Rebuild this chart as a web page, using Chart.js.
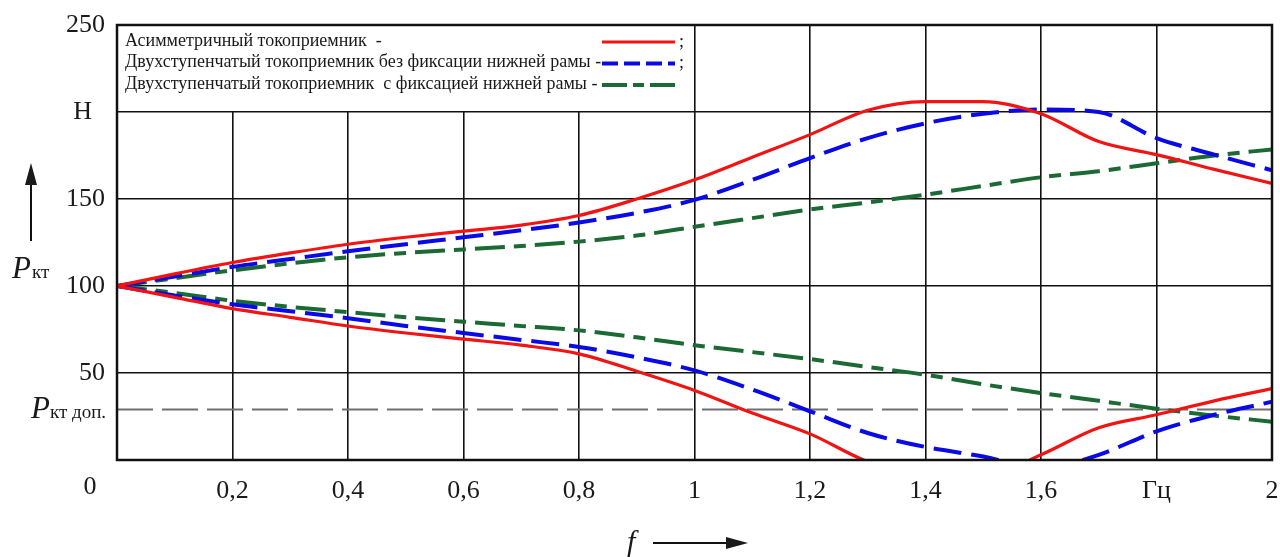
<!DOCTYPE html>
<html>
<head>
<meta charset="utf-8">
<script src="https://cdn.jsdelivr.net/npm/chart.js@4.4.1/dist/chart.umd.min.js"></script>
<style>
  html, body { margin: 0; padding: 0; background: #fff; }
</style>
</head>
<body>
<canvas id="chart" width="1280" height="557"></canvas>
<script>
// frequency, Hz
var freq = [0, 0.1, 0.2, 0.3, 0.4, 0.5, 0.6, 0.7, 0.8, 0.9, 1.0,
            1.1, 1.2, 1.3, 1.4, 1.5, 1.6, 1.7, 1.8, 1.9, 2.0];

// contact force, N (upper / lower envelope)
var asymUp      = [100, 107, 113.5, 119, 124, 128, 131.5, 135, 140.5, 150, 161,
                   174, 187, 201, 206, 206, 199, 183, 175.5, 167, 159];
var asymDown    = [100, 93.5, 87, 82, 77, 73, 69.5, 66, 61, 51, 40,
                   27, 15, -1, -10, -10, 3, 18.5, 26, 34, 41];
var twoFreeUp   = [100, 105.5, 111, 115.5, 120, 124, 128, 132, 136.5, 142, 149.5,
                   161, 173.5, 185, 193.5, 199, 201.5, 200, 185, 175.5, 166.5];
var twoFreeDown = [100, 94.5, 89.5, 85.5, 81.5, 77, 73, 69, 65, 59, 51.5,
                   40.5, 28, 15.5, 7.5, 2, -5, 3, 16.5, 26, 33.5];
var twoFixUp    = [100, 104.5, 109, 113, 116.5, 119, 121, 123, 125.5, 129, 134,
                   139, 144, 148, 152.5, 157.5, 162.5, 166, 170.5, 175, 178.5];
var twoFixDown  = [100, 96, 91.5, 88, 85, 82, 79.5, 77, 74.5, 70.5, 66,
                   62, 58, 53.5, 49, 43.5, 38.5, 34, 29.5, 25.5, 22];

var pAllowed = 29;

var xTickLabels = ['', '0,2', '0,4', '0,6', '0,8', '1', '1,2', '1,4', '1,6', 'Гц', '2'];
var yTickLabels = ['', '50', '100', '150', 'Н  ', '250'];

var legendLabels = [
  'Асимметричный токоприемник  -',
  'Двухступенчатый токоприемник без фиксации нижней рамы -',
  'Двухступенчатый токоприемник  с фиксацией нижней рамы -'
];

var RED = '#f21313', BLUE = '#0a0ae6', GREEN = '#1b6a34';
var SERIF = '"Liberation Serif", "Times New Roman", serif';

function pts(ys) {
  return freq.map(function(f, i) { return { x: f, y: ys[i] }; });
}

function series(data, color, width, dash) {
  return {
    data: pts(data),
    borderColor: color,
    borderWidth: width,
    borderDash: dash,
    pointRadius: 0,
    cubicInterpolationMode: 'monotone',
    clip: 0,
    fill: false
  };
}

var legendStyles = [
  { color: RED, width: 3, dash: [] , semi: true },
  { color: BLUE, width: 4, dash: [16, 6], semi: true },
  { color: GREEN, width: 4, dash: [25, 6, 11, 6], semi: false }
];

function arrow(ctx, x0, y0, x1, y1) {
  var ang = Math.atan2(y1 - y0, x1 - x0), len = 22, hw = 6;
  ctx.beginPath();
  ctx.moveTo(x0, y0);
  ctx.lineTo(x1 - len * Math.cos(ang), y1 - len * Math.sin(ang));
  ctx.stroke();
  ctx.beginPath();
  ctx.moveTo(x1, y1);
  ctx.lineTo(x1 - len * Math.cos(ang) - hw * Math.sin(ang), y1 - len * Math.sin(ang) + hw * Math.cos(ang));
  ctx.lineTo(x1 - len * Math.cos(ang) + hw * Math.sin(ang), y1 - len * Math.sin(ang) - hw * Math.cos(ang));
  ctx.closePath();
  ctx.fill();
}

var decor = {
  id: 'decor',
  beforeDatasetsDraw: function(chart) {
    var ctx = chart.ctx, a = chart.chartArea;
    var xs = chart.scales.x, ys = chart.scales.y;
    var x1 = xs.getPixelForValue(1), y1 = ys.getPixelForValue(200);

    ctx.save();
    // legend panel covers the grid in the top-left cell block
    ctx.fillStyle = '#fff';
    ctx.fillRect(a.left, a.top, x1 - 1 - a.left, y1 - 1 - a.top);

    ctx.font = '18px ' + SERIF;
    ctx.fillStyle = '#1a1a1a';
    ctx.textBaseline = 'middle';
    ctx.textAlign = 'left';
    var rows = [41, 62.5, 84];
    legendLabels.forEach(function(t, i) {
      var st = legendStyles[i];
      ctx.fillText(t, 125, rows[i]);
      ctx.strokeStyle = st.color;
      ctx.lineWidth = st.width;
      ctx.setLineDash(st.dash);
      ctx.beginPath();
      ctx.moveTo(602, rows[i] + 1);
      ctx.lineTo(675, rows[i] + 1);
      ctx.stroke();
      ctx.setLineDash([]);
      if (st.semi) ctx.fillText(';', 679, rows[i] + 1);
    });
    ctx.restore();
  },
  afterDatasetsDraw: function(chart) {
    var ctx = chart.ctx, a = chart.chartArea;
    ctx.save();
    ctx.strokeStyle = '#111';
    ctx.lineWidth = 2.5;
    ctx.strokeRect(a.left, a.top, a.right - a.left, a.bottom - a.top);
    ctx.restore();
  },
  afterDraw: function(chart) {
    var ctx = chart.ctx;
    ctx.save();
    ctx.fillStyle = '#1a1a1a';
    ctx.strokeStyle = '#111';
    ctx.lineWidth = 2;

    // origin label
    ctx.font = '26px ' + SERIF;
    ctx.textAlign = 'center';
    ctx.textBaseline = 'middle';
    ctx.fillText('0', 90, 487);

    ctx.textAlign = 'left';
    ctx.textBaseline = 'alphabetic';
    // P_kt
    ctx.font = 'italic 31px ' + SERIF;
    ctx.fillText('P', 12, 278);
    ctx.font = '19px ' + SERIF;
    ctx.fillText('кт', 32, 278);
    // P_kt allowed
    ctx.font = 'italic 31px ' + SERIF;
    ctx.fillText('P', 31, 418);
    ctx.font = '19px ' + SERIF;
    ctx.fillText('кт доп.', 50, 418);
    // f
    ctx.font = 'italic 30px ' + SERIF;
    ctx.fillText('f', 627, 551);

    arrow(ctx, 31, 241, 31, 163);
    arrow(ctx, 653, 543, 748, 543);
    ctx.restore();
  }
};

var ctx = document.getElementById('chart').getContext('2d');
var chart = new Chart(ctx, {
  type: 'line',
  data: {
    datasets: [
      series(asymUp, RED, 3.2, []),
      series(asymDown, RED, 3.2, []),
      series(twoFreeUp, BLUE, 4, [28, 10]),
      series(twoFreeDown, BLUE, 4, [28, 10]),
      series(twoFixUp, GREEN, 4, [30, 9, 12, 9]),
      series(twoFixDown, GREEN, 4, [30, 9, 12, 9]),
      {
        data: [{ x: freq[0], y: pAllowed }, { x: freq[freq.length - 1], y: pAllowed }],
        borderColor: '#6f6f6f',
        borderWidth: 2,
        borderDash: [36, 9],
        pointRadius: 0,
        clip: 0,
        fill: false
      }
    ]
  },
  options: {
    responsive: false,
    animation: false,
    devicePixelRatio: 1,
    layout: { padding: { top: 25, right: 8, left: 0, bottom: 0 } },
    plugins: {
      legend: { display: false },
      tooltip: { enabled: false }
    },
    scales: {
      x: {
        type: 'linear',
        min: 0,
        max: 2,
        afterFit: function(s) {
          s.height = 97;
          s.paddingLeft = 0;
          s.paddingRight = 0;
        },
        ticks: {
          stepSize: 0.2,
          autoSkip: false,
          maxRotation: 0,
          padding: 16,
          color: '#1a1a1a',
          font: { family: SERIF, size: 26 },
          callback: function(v, i) { return xTickLabels[i]; }
        },
        grid: { color: '#111', lineWidth: 1.6, drawTicks: false },
        border: { display: false }
      },
      y: {
        min: 0,
        max: 250,
        afterFit: function(s) {
          s.width = 117;
          s.paddingTop = 0;
          s.paddingBottom = 0;
        },
        ticks: {
          stepSize: 50,
          padding: 12,
          color: '#1a1a1a',
          font: { family: SERIF, size: 26 },
          callback: function(v, i) { return yTickLabels[i]; }
        },
        grid: { color: '#111', lineWidth: 1.6, drawTicks: false },
        border: { display: false }
      }
    }
  },
  plugins: [decor]
});
</script>
</body>
</html>
